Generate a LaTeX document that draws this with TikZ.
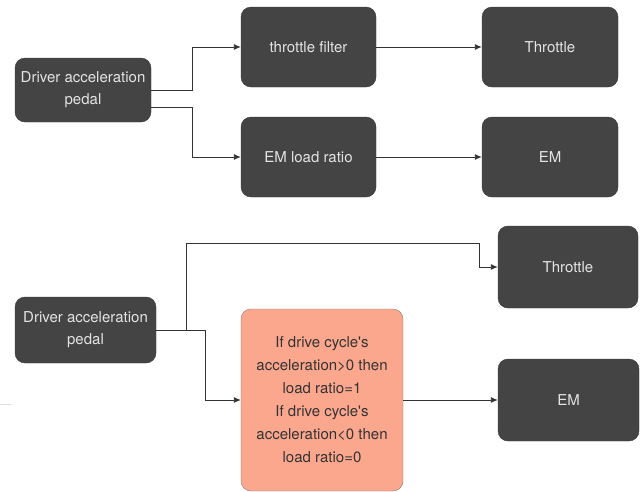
\documentclass[tikz,border=0pt]{standalone}
\usepackage{fontspec}
\setmainfont{TeX Gyre Heros}
\usetikzlibrary{positioning,arrows.meta}
\definecolor{boxgrey}{HTML}{444444}
\definecolor{boxtext}{HTML}{E4E4E4}
\definecolor{rulefill}{HTML}{FBA78E}
\definecolor{ruleline}{HTML}{8A7A72}
\definecolor{linkgrey}{HTML}{333333}

\begin{document}
\begin{tikzpicture}[x=1pt, y=-1pt,
    box/.style={draw=boxgrey!80!black, fill=boxgrey, text=boxtext, rounded corners=10pt,
      align=center, inner sep=0pt, font=\fontsize{15}{22}\selectfont},
    rulebox/.style={draw=ruleline, fill=rulefill, text=linkgrey, rounded corners=10pt,
      align=center, inner sep=0pt, font=\fontsize{15}{23}\selectfont},
    link/.style={draw=linkgrey, line width=0.9pt, -{Latex[length=7pt,width=6pt]}}]

      \useasboundingbox (0,0) rectangle (643,491);

      \node [box, minimum width=136, minimum height=64] at (83,90) (pedalA) {Driver acceleration\\pedal};
      \node [box, minimum width=135, minimum height=80] at (308.5,47) (filter) {throttle filter};
      \node [box, minimum width=136, minimum height=80] at (550,47) (throttleA) {Throttle};
      \node [box, minimum width=135, minimum height=80] at (308.5,157) (loadratio) {EM load ratio};
      \node [box, minimum width=136, minimum height=80] at (550,157) (emA) {EM};

      \draw [link] (pedalA.east) -- ++(41,0) |- (filter.west);
      \draw [link] ([yshift=-17pt]pedalA.east) -- ++(41,0) |- (loadratio.west);
      \draw [link] (filter) -- (throttleA);
      \draw [link] (loadratio) -- (emA);

      \node [box, minimum width=141, minimum height=66] at (85.5,330) (pedalB) {Driver acceleration\\pedal};
      \node [box, minimum width=140, minimum height=82] at (568,267) (throttleB) {Throttle};
      \node [rulebox, minimum width=162, minimum height=182] at (322,400) (rule)
        {If drive cycle\textquotesingle s\\acceleration>0 then\\load ratio=1\\If drive cycle\textquotesingle s\\acceleration<0 then\\load ratio=0};
      \node [box, minimum width=141, minimum height=82] at (568.5,400) (emB) {EM};

      \coordinate (split) at (186,330);
      \draw [link] (pedalB.east) -- ++(49,0) |- (rule.west);
      \draw [link] (split) |- (479,243) |- (throttleB.west);
      \draw [link] (rule.east) -- (emB.west);

      \draw [gray!25] (0,404) -- (11,404);
    \end{tikzpicture}
\end{document}
